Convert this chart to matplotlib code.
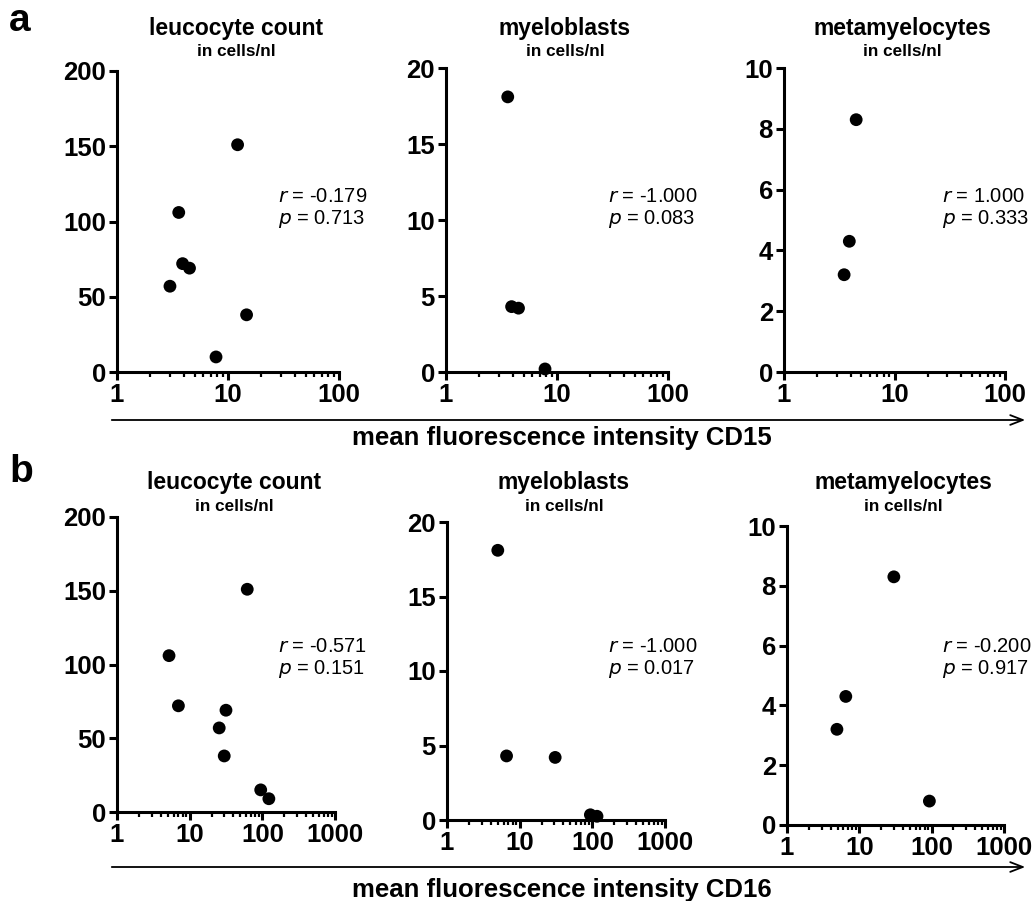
import matplotlib
matplotlib.use("Agg")
import matplotlib.pyplot as plt
from matplotlib.patches import FancyArrowPatch

plt.rcParams['font.family'] = ['Liberation Sans', 'DejaVu Sans']

W, H = 1034, 901

# --- data ---
# a: mean fluorescence intensity CD15
cd15_leuco_x = [3.0, 3.6, 3.9, 4.5, 7.8, 12.2, 14.7]
cd15_leuco_y = [57, 106, 72, 69, 10, 151, 38]
cd15_myelo_x = [3.6, 3.9, 4.5, 7.8]
cd15_myelo_y = [18.1, 4.3, 4.2, 0.2]
cd15_meta_x = [3.5, 3.9, 4.5]
cd15_meta_y = [3.2, 4.3, 8.3]

# b: mean fluorescence intensity CD16
cd16_leuco_x = [5.2, 7.0, 25.5, 29.9, 31.6, 62, 95, 123]
cd16_leuco_y = [106, 72, 57, 38, 69, 151, 15, 9]
cd16_myelo_x = [5.0, 6.6, 30.8, 94, 116]
cd16_myelo_y = [18.1, 4.3, 4.2, 0.35, 0.25]
cd16_meta_x = [4.9, 6.5, 30, 93]
cd16_meta_y = [3.2, 4.3, 8.3, 0.8]

titles = ['leucocyte count', 'myeloblasts', 'metamyelocytes']
stats_cd15 = [('-0.179', '0.713'), ('-1.000', '0.083'), ('1.000', '0.333')]
stats_cd16 = [('-0.571', '0.151'), ('-1.000', '0.017'), ('-0.200', '0.917')]
y_max = [200, 20, 10]
y_step = [50, 5, 2]
x_ticks_cd15 = [1, 10, 100]
x_ticks_cd16 = [1, 10, 100, 1000]

rows = [
    dict(xs=[cd15_leuco_x, cd15_myelo_x, cd15_meta_x],
         ys=[cd15_leuco_y, cd15_myelo_y, cd15_meta_y],
         stats=stats_cd15, xticks=x_ticks_cd15,
         boxes=[(117, 71, 339, 372), (446, 68, 668, 372), (784, 68, 1005, 372)],
         title_y=28, sub_y=52, r_y=196, p_y=219,
         letter='a', letter_y=21, arrow_y=420, label_y=438,
         label='mean fluorescence intensity CD15'),
    dict(xs=[cd16_leuco_x, cd16_myelo_x, cd16_meta_x],
         ys=[cd16_leuco_y, cd16_myelo_y, cd16_meta_y],
         stats=stats_cd16, xticks=x_ticks_cd16,
         boxes=[(117, 517, 335, 812), (447, 522, 665, 820), (787, 526, 1004, 825)],
         title_y=483, sub_y=506, r_y=647, p_y=669,
         letter='b', letter_y=472, arrow_y=867, label_y=890,
         label='mean fluorescence intensity CD16'),
]
stat_x = [278, 608, 942]


def fx(x):
    return x / W


def fy(y):
    return 1 - y / H


fig = plt.figure(figsize=(W / 100, H / 100), dpi=100)

for row in rows:
    for i in range(3):
        l, t, r, b = row['boxes'][i]
        ax = fig.add_axes([fx(l), fy(b), (r - l) / W, (b - t) / H])
        ax.scatter(row['xs'][i], row['ys'][i], s=85, color='black',
                   edgecolors='none', clip_on=False, zorder=5)
        ax.set_xscale('log')
        ax.set_xlim(row['xticks'][0], row['xticks'][-1])
        ax.set_ylim(0, y_max[i])
        ax.set_xticks(row['xticks'])
        ax.set_xticklabels([str(v) for v in row['xticks']])
        yt = list(range(0, y_max[i] + 1, y_step[i]))
        ax.set_yticks(yt)
        ax.set_yticklabels([str(v) for v in yt])
        for side in ('top', 'right'):
            ax.spines[side].set_visible(False)
        for side in ('left', 'bottom'):
            ax.spines[side].set_linewidth(2.2)
        ax.tick_params(which='major', direction='out', length=6, width=2.2,
                       labelsize=18.5, pad=2)
        ax.tick_params(axis='x', which='minor', direction='out', length=3.5, width=1.6)
        for lab in ax.get_xticklabels() + ax.get_yticklabels():
            lab.set_fontweight('bold')
        ax.set_facecolor('none')

        cx = (l + r) / 2 + 8
        fig.text(fx(cx), fy(row['title_y']), titles[i], ha='center', va='center',
                 fontsize=16.5, fontweight='bold')
        fig.text(fx(cx), fy(row['sub_y']), 'in cells/nl', ha='center', va='center',
                 fontsize=12.3, fontweight='bold')
        rv, pv = row['stats'][i]
        fig.text(fx(stat_x[i]), fy(row['r_y']), '$\\it{r}$ = ' + rv, ha='left',
                 va='center', fontsize=14.5)
        fig.text(fx(stat_x[i]), fy(row['p_y']), '$\\it{p}$ = ' + pv, ha='left',
                 va='center', fontsize=14.5)

    fig.text(fx(9), fy(row['letter_y']), row['letter'], ha='left', va='center',
             fontsize=28, fontweight='bold')
    arrow = FancyArrowPatch((fx(109), fy(row['arrow_y'])), (fx(1028), fy(row['arrow_y'])),
                            transform=fig.transFigure,
                            arrowstyle='->,head_length=9,head_width=3.5',
                            mutation_scale=1, lw=1.3, color='black')
    fig.add_artist(arrow)
    fig.text(fx(562), fy(row['label_y']), row['label'], ha='center', va='center',
             fontsize=18.5, fontweight='bold')

fig.savefig('out.png', dpi=100)
